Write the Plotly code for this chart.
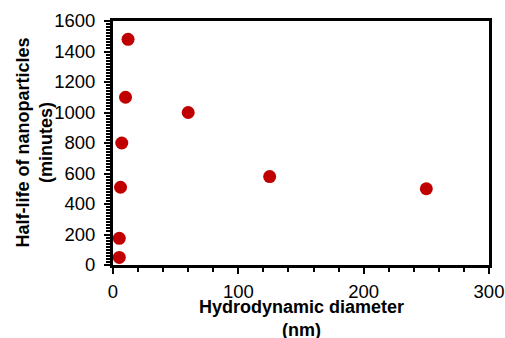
import plotly.graph_objects as go

diameter_nm = [12, 10, 7, 6, 5, 5, 60, 125, 250]
half_life_min = [1480, 1100, 800, 510, 175, 50, 1000, 580, 500]

x_ticks = [0, 100, 200, 300]
y_ticks = [0, 200, 400, 600, 800, 1000, 1200, 1400, 1600]

x_title = "<b>Hydrodynamic diameter<br>(nm)</b>"
y_title = "<b>Half-life of nanoparticles<br>(minutes)</b>"

fig = go.Figure(go.Scatter(
    x=diameter_nm, y=half_life_min, mode="markers",
    marker=dict(color="#C00000", size=13, line=dict(width=0)),
    cliponaxis=False,
))

font = dict(family="Liberation Sans, Arial, sans-serif", color="#000000")
axis_common = dict(
    showgrid=False, zeroline=False, showline=True, linecolor="black", linewidth=3,
    mirror=True, ticks="outside", ticklen=6, tickwidth=2, tickcolor="black",
    tickfont=dict(size=18.5, **font), automargin=False,
)

fig.update_xaxes(
    range=[0, 300], tickvals=x_ticks, ticktext=[str(v) for v in x_ticks],
    minor=dict(dtick=20, ticks="outside", ticklen=4, tickwidth=2, tickcolor="black"),
    ticklabelstandoff=2,
    **axis_common,
)
fig.update_yaxes(
    range=[0, 1600], tickvals=y_ticks, ticktext=[str(v) for v in y_ticks],
    minor=dict(dtick=20, ticks="outside", ticklen=4, tickwidth=2, tickcolor="black"),
    ticklabelstandoff=5,
    **axis_common,
)

fig.add_annotation(
    text=x_title, xref="paper", yref="paper", x=0.5, y=0,
    xanchor="center", yanchor="middle", yshift=-53, showarrow=False,
    font=dict(size=18, **font),
)
fig.add_annotation(
    text=y_title, xref="paper", yref="paper", x=0, y=0.5, textangle=-90,
    xanchor="center", yanchor="middle", xshift=-79.5, showarrow=False,
    font=dict(size=18, **font),
)

fig.update_layout(
    width=505, height=338,
    margin=dict(l=113, r=16, t=21, b=73),
    plot_bgcolor="white", paper_bgcolor="white",
    showlegend=False, font=font,
)

fig.write_html(
    "out.html",
    config={"displayModeBar": False},
    post_script="document.body.style.margin='0';document.body.style.overflow='hidden';",
)
